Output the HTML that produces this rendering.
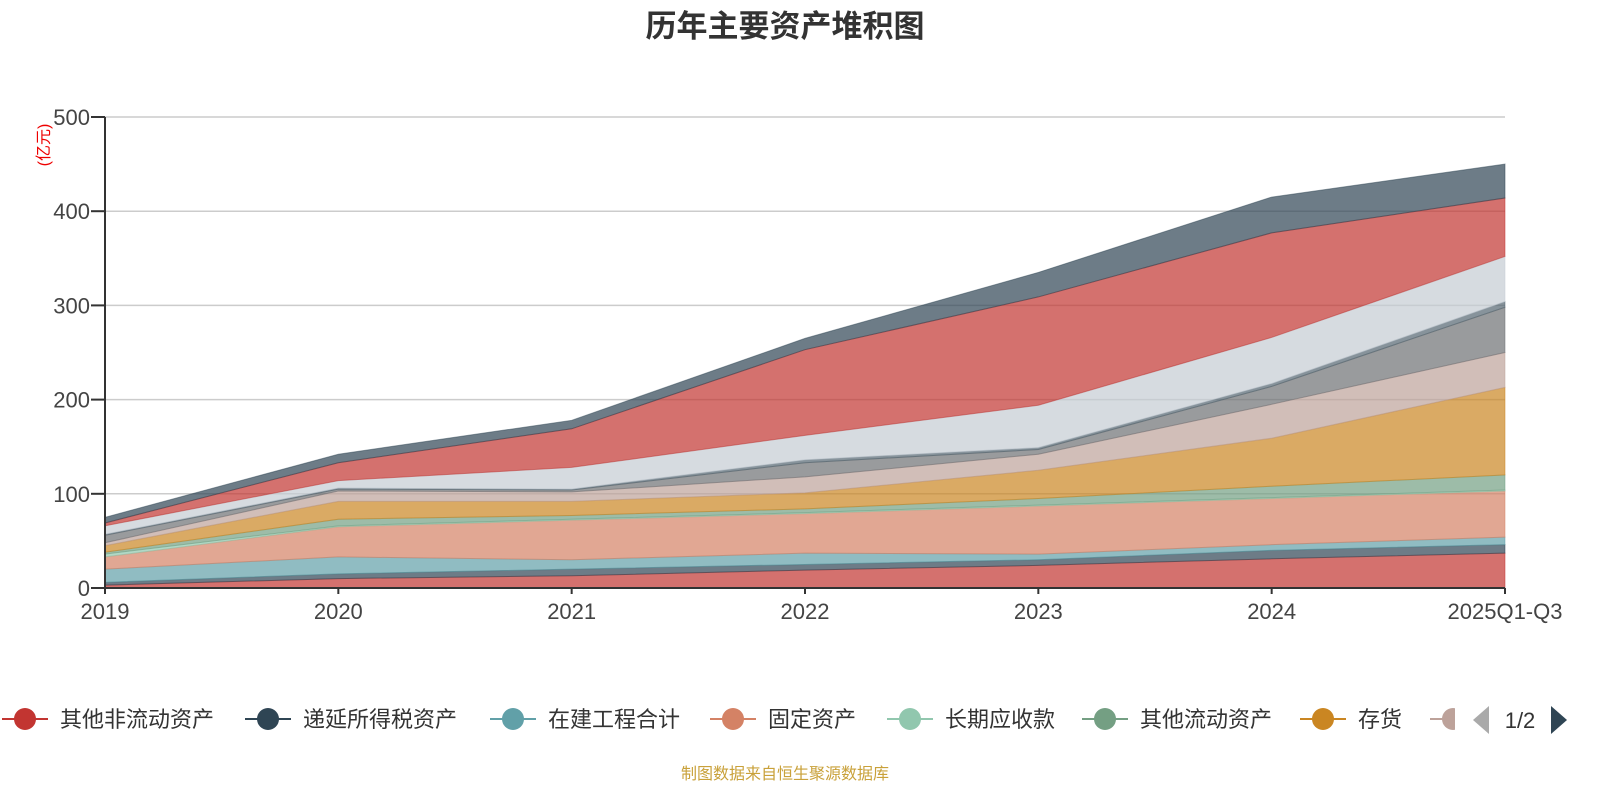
<!DOCTYPE html>
<html><head><meta charset="utf-8"><style>
html,body{margin:0;padding:0;background:#fff;width:1600px;height:800px;overflow:hidden;font-family:"Liberation Sans","Noto Sans CJK SC",sans-serif}
</style></head><body>
<svg id="chart" width="1600" height="800" xmlns="http://www.w3.org/2000/svg">
<text x="785" y="37" text-anchor="middle" font-size="31" font-weight="bold" fill="#333" font-family="Liberation Sans,Noto Sans CJK SC,sans-serif">历年主要资产堆积图</text>
<text transform="translate(49,145) rotate(-90)" text-anchor="middle" font-size="16" fill="#e00" font-family="Liberation Sans,Noto Sans CJK SC,sans-serif">(亿元)</text>
<g id="grid"></g><g id="areas"></g><g id="axes"></g><g id="legend"></g>
<text x="785" y="779" text-anchor="middle" font-size="16" fill="#c9a13a" font-family="Liberation Sans,Noto Sans CJK SC,sans-serif">制图数据来自恒生聚源数据库</text>
</svg>
<script>
const categories=["2019","2020","2021","2022","2023","2024","2025Q1-Q3"];
const seriesNames=["其他非流动资产","递延所得税资产","在建工程合计","固定资产","长期应收款","其他流动资产","存货","预付款项","应收账款","应收票据","交易性金融资产","货币资金","其他资产"];
const s1=[3,10,13,19,24,31,37];
const s2=[3,5,7,6,6,9,9];
const s3=[14,18,10,12,6,6,8];
const s4=[13,32,42,42,51,49,49];
const s5=[3,1,1,1,1,1,1];
const s6=[2,7,4,4,7,12,16];
const s7=[7,19,15,17,30,51,93];
const s8=[3,11,10,17,17,36,37];
const s9=[8,2,2,15,5,19,48];
const s10=[1,1,1,3,2,3,6];
const s11=[9,8,23,26,45,49,48];
const s12=[3,19,41,91,115,111,62];
const s13=[6,9,9,12,26,38,36];
const yTicks=[0,100,200,300,400,500];
const seriesData=[s1,s2,s3,s4,s5,s6,s7,s8,s9,s10,s11,s12,s13];
const colors=["#c23531","#2f4554","#61a0a8","#d48265","#91c7ae","#749f83","#ca8622","#bda29a","#6e7074","#546570","#c4ccd3","#c23531","#2f4554"];
const NS="http://www.w3.org/2000/svg";
const X0=105,X1=1505,Y0=588,Y1=117,YMAX=500;
const xs=i=>X0+i*(X1-X0)/(categories.length-1);
const ys=v=>Y0-v*(Y0-Y1)/YMAX;
function mk(tag,attrs,parent){const e=document.createElementNS(NS,tag);for(const k in attrs)e.setAttribute(k,attrs[k]);parent.appendChild(e);return e;}
const grid=document.getElementById('grid'),axes=document.getElementById('axes'),areas=document.getElementById('areas'),legend=document.getElementById('legend');
const F="Liberation Sans,Noto Sans CJK SC,sans-serif";
yTicks.forEach(t=>{
  if(t>0){const l=mk('line',{x1:X0,x2:X1,y1:ys(t),y2:ys(t),stroke:'#ccc','stroke-width':1.5},grid);
  
  }
  const tk=mk('line',{x1:X0-14,x2:X0,y1:ys(t),y2:ys(t),stroke:'#333','stroke-width':2},axes);
  
  
  const tx=mk('text',{x:X0-15,y:ys(t)+8,'text-anchor':'end','font-size':22,fill:'#444','font-family':F},axes);tx.textContent=t;
  
  
});
const cum=categories.map(()=>0);
seriesData.forEach((s,k)=>{
  const lower=cum.slice();
  s.forEach((v,i)=>cum[i]+=v);
  let d='M'+categories.map((c,i)=>xs(i)+','+ys(cum[i])).join(' L');
  for(let i=categories.length-1;i>=0;i--)d+=' L'+xs(i)+','+ys(lower[i]);
  d+='Z';
  const p=mk('path',{d:d,fill:colors[k],'fill-opacity':0.7,stroke:colors[k],'stroke-opacity':0.5,'stroke-width':1},areas);
  
  
});
const ya=mk('line',{x1:X0,x2:X0,y1:Y1,y2:Y0,stroke:'#333','stroke-width':2},axes);


const xa=mk('line',{x1:X0,x2:X1,y1:Y0,y2:Y0,stroke:'#333','stroke-width':2},axes);


categories.forEach((c,i)=>{
  const tk=mk('line',{x1:xs(i),x2:xs(i),y1:Y0,y2:Y0+6,stroke:'#333','stroke-width':2},axes);
  
  
  const t=mk('text',{x:xs(i),y:Y0+31,'text-anchor':'middle','font-size':22,fill:'#444','font-family':F},axes);t.textContent=c;
  
  
});
const lx=[2,245,490,710,887,1082,1300,1430];
for(let k=0;k<8;k++){
  const g=mk('g',{},legend);
  
  
  const x=lx[k],y=719;
  mk('line',{x1:x,x2:x+46,y1:y,y2:y,stroke:colors[k],'stroke-width':2},g);
  mk('circle',{cx:x+23,cy:y,r:11,fill:colors[k]},g);
  const t=mk('text',{x:x+58,y:y+8,'font-size':22,fill:'#333','font-family':F},g);t.textContent=seriesNames[k];
}
const cover=mk('rect',{x:1455,y:700,width:145,height:40,fill:'#fff'},legend);


const pl=mk('path',{d:'M1489,706 L1489,734 L1473,720 Z',fill:'#aaa'},legend);


const pt=mk('text',{x:1520,y:728,'text-anchor':'middle','font-size':22,fill:'#333','font-family':F},legend);pt.textContent='1/2';


const pr=mk('path',{d:'M1551,706 L1551,734 L1567,720 Z',fill:'#2f4554'},legend);


</script>
</body></html>
